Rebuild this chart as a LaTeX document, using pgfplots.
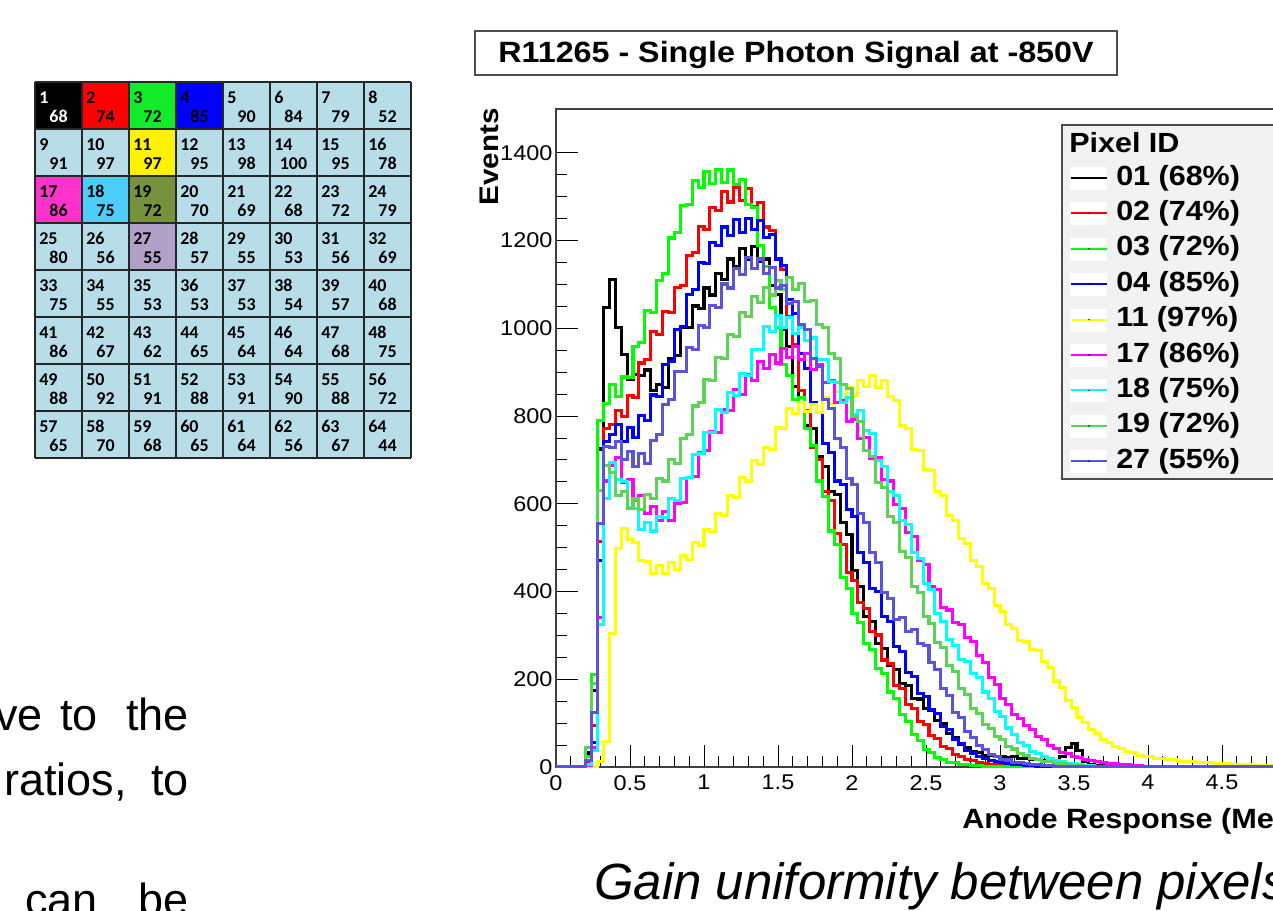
\documentclass[border=0pt]{standalone}
\usepackage{fontspec}
\setmainfont{Liberation Sans}
\newfontfamily\rootfont[FakeStretch=1.1]{Liberation Sans}
\newfontfamily\calib{Carlito}
\usepackage{pgfplots}
\usepackage{pgfplotstable}
\pgfplotsset{compat=1.18}

\definecolor{cellbg}{RGB}{183,222,232}
\definecolor{cgreen}{RGB}{17,235,40}
\definecolor{cmag}{RGB}{255,51,204}
\definecolor{csky}{RGB}{77,205,249}
\definecolor{colive}{RGB}{118,146,60}
\definecolor{clav}{RGB}{177,160,199}
\definecolor{rootgr}{RGB}{0,255,0}
\definecolor{rootyl}{RGB}{255,255,0}
\definecolor{rootmg}{RGB}{255,0,255}
\definecolor{rootcy}{RGB}{0,255,255}
\definecolor{rootlg}{RGB}{89,212,84}
\definecolor{rootsb}{RGB}{89,84,217}
\definecolor{legbg}{RGB}{242,242,242}

% anode response histograms, one column per pixel
\pgfplotstableread{
x    p01  p02  p03  p04  p11  p17  p18  p19  p27
0.00 0    0    0    0    0    0    0    0    0
0.16 0    0    0    0    0    0    0    0    0
0.20 32   8    24   6    0    4    6    45   14
0.24 175  95   210  55   0    45   38   190  125
0.28 725  515  790  470  12   340  325  630  555
0.32 1048 772  828  742  58   652  612  688  731
0.36 1112 781  871  758  305  688  694  672  728
0.40 1002 812  845  781  498  705  655  618  742
0.44 941  798  889  742  544  648  651  628  702
0.48 884  846  887  775  518  655  592  590  719
0.52 895  842  958  752  512  608  589  611  684
0.56 892  921  968  801  471  618  541  588  715
0.60 905  928  1041 790  468  578  558  622  692
0.64 858  992  1036 848  441  593  538  612  744
0.68 872  985  1108 845  459  561  571  658  758
0.72 866  1038 1125 918  441  582  569  652  826
0.76 931  1036 1206 925  466  563  612  701  838
0.80 938  1094 1218 998  451  601  608  692  901
0.84 1001 1098 1281 1005 483  603  658  748  902
0.88 1002 1167 1282 1078 474  659  661  758  956
0.92 1051 1172 1336 1088 511  662  713  823  951
0.96 1046 1232 1322 1151 505  718  714  832  1006
1.00 1092 1226 1358 1148 542  721  763  884  1001
1.04 1076 1276 1331 1196 536  764  762  882  1052
1.08 1126 1268 1362 1188 578  763  814  934  1047
1.12 1112 1312 1332 1231 574  815  808  931  1101
1.16 1158 1288 1361 1212 618  812  854  985  1092
1.20 1142 1322 1328 1248 614  861  846  982  1136
1.24 1181 1292 1340 1218 659  849  896  1036 1122
1.28 1158 1318 1282 1250 652  894  892  1026 1161
1.32 1186 1278 1275 1225 698  882  952  1072 1136
1.36 1152 1286 1188 1246 689  924  952  1058 1158
1.40 1158 1231 1142 1208 728  908  1004 1094 1126
1.44 1098 1224 1048 1213 724  941  992  1076 1138
1.48 1078 1156 1002 1158 774  921  1029 1108 1092
1.52 998  1134 918  1144 772  953  1002 1088 1098
1.56 958  1026 892  1066 818  934  1024 1116 1056
1.60 868  962  838  1034 806  958  988  1088 1062
1.64 842  858  842  942  832  928  1003 1102 1008
1.68 778  812  772  908  810  943  972  1062 998
1.72 771  728  733  832  827  906  978  1064 932
1.76 708  702  652  808  808  918  928  1008 912
1.80 686  628  617  738  842  876  928  1002 838
1.84 628  607  538  718  828  881  878  942  818
1.88 621  533  507  652  857  832  877  932  748
1.92 558  507  433  643  838  836  832  872  728
1.96 531  443  406  588  864  788  842  862  658
2.00 449  426  350  572  848  793  803  798  643
2.04 411  374  329  488  882  748  812  788  578
2.08 344  361  281  466  868  751  768  722  558
2.12 331  309  268  408  892  703  761  708  488
2.16 281  301  224  401  866  705  698  648  467
2.20 271  244  213  343  881  655  685  638  398
2.24 232  236  171  331  845  652  628  572  384
2.28 222  186  156  274  836  598  619  558  336
2.32 191  178  119  264  778  589  563  492  341
2.36 186  142  104  216  772  534  552  478  309
2.40 157  134  74   206  723  526  488  412  314
2.44 155  104  61   168  721  471  476  398  282
2.48 133  97   40   161  678  461  419  343  276
2.52 129  71   34   131  676  411  404  328  238
2.56 106  65   21   123  627  404  351  284  222
2.60 98   47   18   93   619  363  332  272  179
2.64 77   42   11   85   573  358  291  231  163
2.68 68   29   10   63   563  329  278  218  125
2.72 52   25   6    54   521  325  246  179  112
2.76 45   17   5    38   509  296  240  165  81
2.80 36   15   4    32   471  287  213  134  68
2.84 33   10   3    23   458  255  203  121  48
2.88 27   9    2    20   418  239  171  97   39
2.92 27   6    2    14   406  205  156  87   29
2.96 24   6    1    12   369  189  126  70   25
3.00 25   4    0    10   355  156  115  62   18
3.04 22   4    0    8    324  143  89   46   16
3.08 23   3    0    6    315  119  75   41   11
3.12 19   2    0    5    288  110  56   31   10
3.16 20   2    0    4    285  94   48   27   8
3.20 17   2    0    3    268  86   35   20   6
3.24 18   1    0    2    266  70   31   18   5
3.28 15   0    0    2    241  62   23   13   4
3.32 16   0    0    1    226  48   20   12   3
3.36 13   0    0    0    196  43   14   8    2
3.40 24   0    0    0    182  34   13   7    1
3.44 44   0    0    0    151  31   8    5    0
3.48 53   0    0    0    136  24   7    4    0
3.52 38   0    0    0    112  22   5    3    0
3.56 13   0    0    0    102  17   4    2    0
3.60 6    0    0    0    85   15   3    1    0
3.64 4    0    0    0    77   13   2    0    0
3.68 3    0    0    0    62   10   1    0    0
3.72 2    0    0    0    56   9    0    0    0
3.76 1    0    0    0    46   8    0    0    0
3.80 0    0    0    0    42   6    0    0    0
3.84 0    0    0    0    35   5    0    0    0
3.88 0    0    0    0    33   4    0    0    0
3.92 0    0    0    0    27   3    0    0    0
3.96 0    0    0    0    25   2    0    0    0
4.04 0    0    0    0    19   1    0    0    0
4.12 0    0    0    0    17   0    0    0    0
4.20 0    0    0    0    13   0    0    0    0
4.32 0    0    0    0    11   0    0    0    0
4.44 0    0    0    0    8    0    0    0    0
4.56 0    0    0    0    6    0    0    0    0
4.70 0    0    0    0    4    0    0    0    0
4.84 0    0    0    0    2    0    0    0    0
5.00 0    0    0    0    0    0    0    0    0
5.50 0    0    0    0    0    0    0    0    0
}\histdata

\def\vals{68,74,72,85,90,84,79,52,91,97,97,95,98,100,95,78,86,75,72,70,69,68,72,79,80,56,55,57,55,53,56,69,75,55,53,53,53,54,57,68,86,67,62,65,64,64,68,75,88,92,91,88,91,90,88,72,65,70,68,65,64,56,67,44}

\begin{document}
\begin{tikzpicture}
\path[use as bounding box] (0,0) rectangle (954.75pt,-682.5pt);
\clip (0,0) rectangle (954.75pt,-682.5pt);
\fill[white] (0,0) rectangle (954.75pt,-682.5pt);

% pixel map, in image pixels (y downwards)
\begin{scope}[x=0.75pt,y=-0.75pt]
  \fill[cellbg] (35,82) rectangle (411,458);
  \fill[black]  (35,82)   rectangle +(47,47);
  \fill[red]    (82,82)   rectangle +(47,47);
  \fill[cgreen] (129,82)  rectangle +(47,47);
  \fill[blue]   (176,82)  rectangle +(47,47);
  \fill[yellow] (129,129) rectangle +(47,47);
  \fill[cmag]   (35,176)  rectangle +(47,47);
  \fill[csky]   (82,176)  rectangle +(47,47);
  \fill[colive] (129,176) rectangle +(47,47);
  \fill[clav]   (129,223) rectangle +(47,47);
  \foreach \i in {0,...,8} {
    \draw[black!85, line width=1.1pt] (35+47*\i,82) -- (35+47*\i,458);
    \draw[black!85, line width=1.1pt] (35,82+47*\i) -- (411,82+47*\i);
  }
  \foreach \v [count=\n] in \vals {
    \pgfmathtruncatemacro\cc{mod(\n-1,8)}
    \pgfmathtruncatemacro\rr{floor((\n-1)/8)}
    \node[anchor=base west, inner sep=0pt, font=\calib\bfseries\fontsize{13.5}{15}\selectfont]
      at ({39+47*\cc},{103+47*\rr}) {\ifnum\n=1 \color{white}\fi\n};
    \node[anchor=base, inner sep=0pt, font=\calib\bfseries\fontsize{13.5}{15}\selectfont]
      at ({58.5+47*\cc},{122+47*\rr}) {\ifnum\n=1 \color{white}\fi\v};
  }

  % slide text around the figures
  \begin{scope}[every node/.style={inner sep=0pt, font=\fontsize{33.75}{40}\selectfont}]
    \node[anchor=base east] at (43,730) {ve};
    \node[anchor=base west] at (60,730) {to};
    \node[anchor=base east] at (189,730) {the};
    \node[anchor=base west] at (4,795) {ratios,};
    \node[anchor=base east] at (189,795) {to};
    \node[anchor=base west] at (25,915) {can};
    \node[anchor=base east] at (189,915) {be};
  \end{scope}
  \node[anchor=base west, inner sep=0pt, font=\itshape\fontsize{38.2}{40}\selectfont]
    at (594,899) {Gain uniformity between pixels};
\end{scope}

\begin{axis}[
  at={(417pt,-575.25pt)}, anchor=south west,
  scale only axis, width=610.5pt, height=493.5pt,
  xmin=0, xmax=5.5, ymin=0, ymax=1500,
  xtick={0,0.5,...,5.5}, ytick={0,200,...,1400},
  minor x tick num=4, minor y tick num=3,
  tick align=inside, tick pos=left,
  major tick length=16.5pt, minor tick length=8.25pt,
  every tick/.style={black, line width=0.75pt},
  axis line style={black!75, line width=1.1pt},
  tick label style={font=\rootfont\fontsize{16}{18}\selectfont},
  /pgf/number format/assume math mode=true,
  /pgf/number format/1000 sep={},
  xticklabel style={anchor=north, inner sep=0pt, yshift=-6pt},
  yticklabel style={anchor=east, inner sep=0pt, xshift=-2.5pt},
  every axis plot/.append style={const plot, line width=2.3pt},
]
\addplot[black]  table[x=x, y=p01] {\histdata};
\addplot[red]    table[x=x, y=p02] {\histdata};
\addplot[rootgr] table[x=x, y=p03] {\histdata};
\addplot[blue]   table[x=x, y=p04] {\histdata};
\addplot[rootyl] table[x=x, y=p11] {\histdata};
\addplot[rootmg] table[x=x, y=p17] {\histdata};
\addplot[rootcy] table[x=x, y=p18] {\histdata};
\addplot[rootlg] table[x=x, y=p19] {\histdata};
\addplot[rootsb] table[x=x, y=p27] {\histdata};
\end{axis}

% title box, axis titles and legend box
\begin{scope}[x=0.75pt,y=-0.75pt]
  \draw[fill=white, draw=black!70, line width=1.1pt] (475,31) rectangle (1117,75);
  \node[anchor=base, inner sep=0pt, font=\rootfont\bfseries\fontsize{22}{24}\selectfont]
    at (796,62) {R11265 - Single Photon Signal at -850V};
  \node[rotate=90, anchor=base east, inner sep=0pt, font=\rootfont\bfseries\fontsize{20.2}{22}\selectfont]
    at (498,108) {Events};
  \node[anchor=base west, inner sep=0pt, font=\rootfont\bfseries\fontsize{20.9}{22}\selectfont]
    at (962,828) {Anode Response (Me)};

  \draw[fill=legbg, draw=black!70, line width=1.1pt] (1062,125) rectangle (1330,479);
  \node[anchor=base west, inner sep=0pt, font=\rootfont\bfseries\fontsize{20.8}{22}\selectfont]
    at (1069,152) {Pixel ID};
  \foreach \col/\lab [count=\k from 0] in {black/01 (68\%), red/02 (74\%), rootgr/03 (72\%),
      blue/04 (85\%), rootyl/11 (97\%), rootmg/17 (86\%), rootcy/18 (75\%),
      rootlg/19 (72\%), rootsb/27 (55\%)} {
    \pgfmathsetmacro\yb{185+35.4*\k}
    \fill[white] (1070,\yb-18) rectangle (1107,\yb+5);
    \draw[\col, line width=1.5pt] (1071,\yb-7) -- (1107,\yb-7);
    \fill[black] (1089,\yb-7) circle (0.8);
    \node[anchor=base west, inner sep=0pt, font=\rootfont\bfseries\fontsize{20.8}{22}\selectfont]
      at (1116,\yb) {\lab};
  }
\end{scope}
\end{tikzpicture}
\end{document}
